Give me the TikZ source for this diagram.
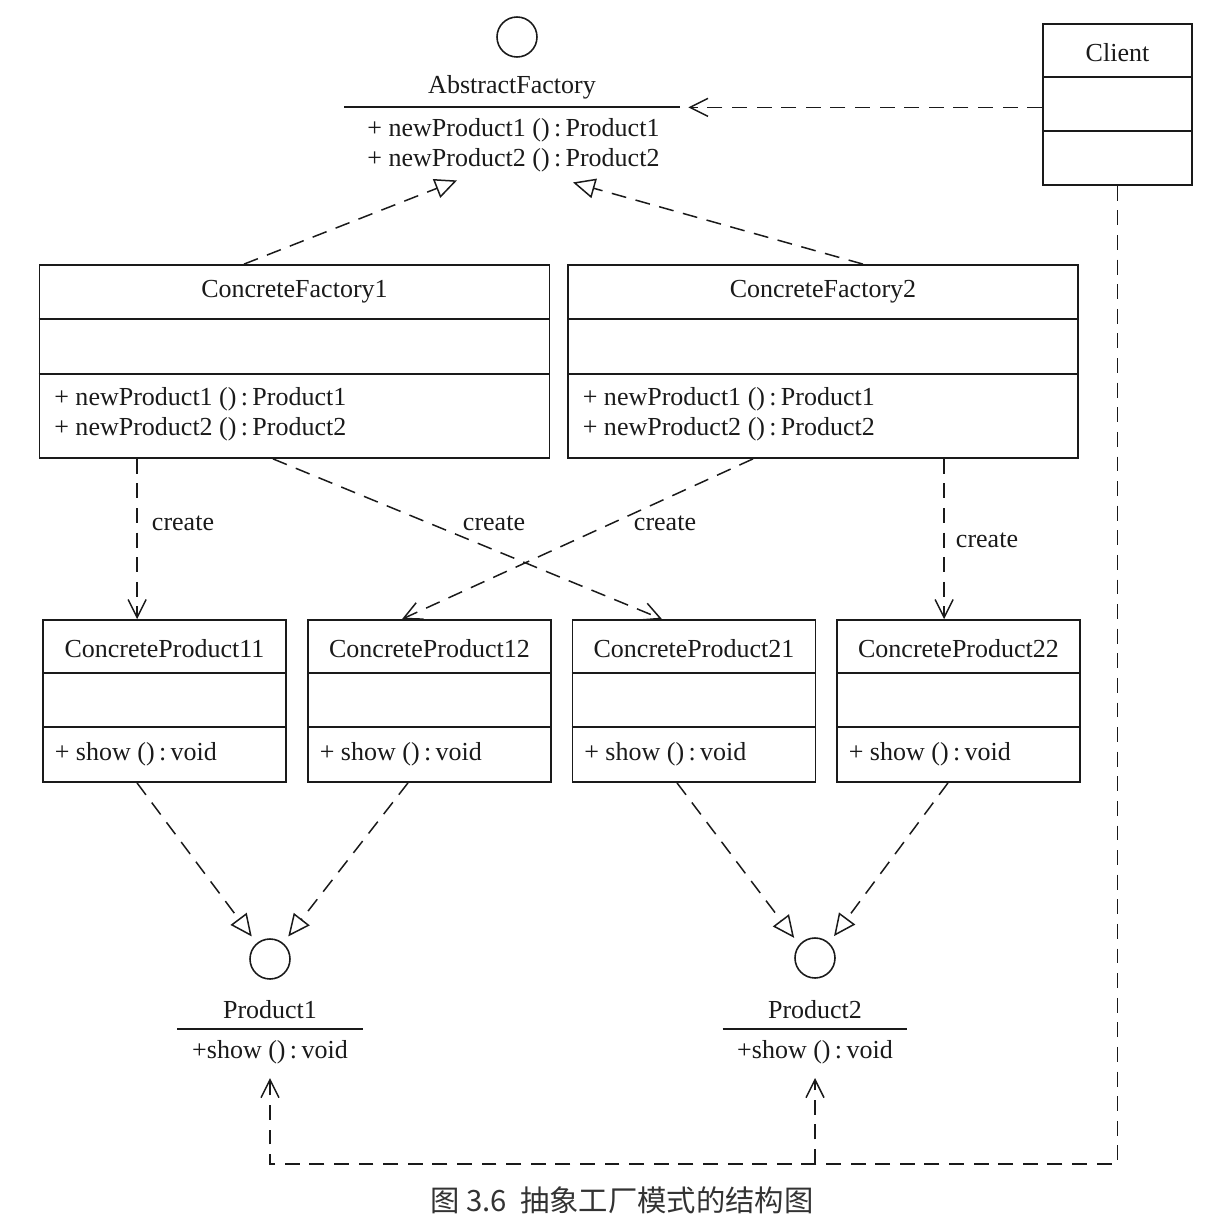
\documentclass[tikz,border=0pt]{standalone}
\usepackage{fontspec}
\setmainfont{Liberation Serif}
\newfontfamily\cjk{Noto Sans CJK SC}
\usepackage{tikz}
\usetikzlibrary{positioning, arrows.meta, calc}
\definecolor{ink}{HTML}{1A1A1A}
\newcommand{\umlfont}{\fontsize{14.8}{17}\selectfont}

\begin{document}
\begin{tikzpicture}[
  every node/.style={font=\umlfont, text=ink},
  cls/.style={draw=ink, line width=1pt, inner sep=0pt},
  iface/.style={circle, draw=ink, line width=0.9pt, minimum size=0.8cm,
                inner sep=0pt, outer sep=0.18cm},
  sep/.style={draw=ink, line width=1pt},
  dsh/.style={draw=ink, line width=0.85pt, dash pattern=on 8.5pt off 5.5pt},
  real/.style={dsh, -{Triangle[open, length=0.44cm, width=0.4cm]}},
  use/.style={dsh, -{Straight Barb[length=0.36cm, width=0.36cm]}}
]
\useasboundingbox (0,0) rectangle (24.64,-24.48);

% abstract factory
\node[iface] (afc) at (10.34,-0.74) {};
\node[minimum width=6.7cm, minimum height=0.8cm, inner sep=0pt] (af) at (10.24,-1.74) {AbstractFactory};
\draw[sep] (af.south west) -- (af.south east);
\node[align=center] (afm) at (10.27,-2.9) {+ newProduct1 ()\,:\,Product1\\+ newProduct2 ()\,:\,Product2};

% client
\node[cls, minimum width=2.98cm, minimum height=3.22cm] (cl) at (22.35,-2.09) {};
\node (clt) at ($(cl.north)+(0,-0.58)$) {Client};
\draw[sep] ($(cl.north west)+(0,-1.08)$) -- ($(cl.north east)+(0,-1.08)$)
           ($(cl.north west)+(0,-2.16)$) -- ($(cl.north east)+(0,-2.16)$);

% concrete factories
\foreach \n/\x in {1/5.89, 2/16.46}{
  \node[cls, minimum width=10.2cm, minimum height=3.86cm] (cf\n) at (\x,-7.23) {};
  \node (cf\n t) at ($(cf\n.north)+(0,-0.56)$) {ConcreteFactory\n};
  \draw[sep] ($(cf\n.north west)+(0,-1.1)$) -- ($(cf\n.north east)+(0,-1.1)$)
             ($(cf\n.north west)+(0,-2.2)$) -- ($(cf\n.north east)+(0,-2.2)$);
  \node[anchor=west, align=left] (cf\n m) at ($(cf\n.north west)+(0.19,-3.0)$)
    {+ newProduct1 ()\,:\,Product1\\+ newProduct2 ()\,:\,Product2};
}

% concrete products
\foreach \n/\x in {11/3.29, 12/8.59, 21/13.88, 22/19.17}{
  \node[cls, minimum width=4.86cm, minimum height=3.24cm] (cp\n) at (\x,-14.02) {};
  \node (cp\n t) at ($(cp\n.north)+(0,-0.58)$) {ConcreteProduct\n};
  \draw[sep] ($(cp\n.north west)+(0,-1.08)$) -- ($(cp\n.north east)+(0,-1.08)$)
             ($(cp\n.north west)+(0,-2.16)$) -- ($(cp\n.north east)+(0,-2.16)$);
  \node[anchor=west] (cp\n m) at ($(cp\n.north west)+(0.13,-2.7)$) {+ show ()\,:\,void};
}

% product interfaces
\node[iface] (p1c) at (5.4,-19.18) {};
\node[minimum width=3.7cm, minimum height=0.76cm, inner sep=0pt] (p1) at (5.4,-20.2) {Product1};
\draw[sep] (p1.south west) -- (p1.south east);
\node (p1s) at (5.4,-21.04) {+show ()\,:\,void};

\node[iface] (p2c) at (16.3,-19.16) {};
\node[minimum width=3.68cm, minimum height=0.76cm, inner sep=0pt] (p2) at (16.3,-20.2) {Product2};
\draw[sep] (p2.south west) -- (p2.south east);
\node (p2s) at (16.3,-21.04) {+show ()\,:\,void};

% realizations
\draw[real] ($(cf1.north)+(-1.01,0)$) -- ($(afm.south)+(-1.13,-0.05)$);
\draw[real] ($(cf2.north)+(0.8,0)$) -- ($(afm.south)+(1.19,-0.09)$);
\draw[real] ($(cp11.south)+(-0.55,0)$) -- (p1c.129);
\draw[real] ($(cp12.south)+(-0.43,0)$) -- (p1c.51);
\draw[real] ($(cp21.south)+(-0.34,0)$) -- (p2c.136);
\draw[real] ($(cp22.south)+(-0.21,0)$) -- (p2c.49);

% create
\coordinate (k1) at ($(cp11.north west)+(1.9,0)$);
\coordinate (k2) at ($(cp22.north west)+(2.16,0)$);
\draw[use] (k1 |- cf1.south) -- (k1);
\draw[use] ($(cf1.south)+(-0.43,0)$) -- ($(cp21.north)+(-0.64,0)$);
\draw[use] ($(cf2.south)+(-1.4,0)$) -- ($(cp12.north)+(-0.55,0)$);
\draw[use] (k2 |- cf2.south) -- (k2);
\node (cr1) at (3.66,-10.46) {create};
\node (cr2) at (9.88,-10.46) {create};
\node (cr3) at (13.3,-10.46) {create};
\node (cr4) at (19.74,-10.8) {create};

% client uses
\coordinate (bus) at (0,-23.28);
\draw[use, shorten >=0.17cm] (cl.west |- af.south) -- (af.south east);
\draw[use, shorten >=0.16cm] (cl.south) |- (bus -| p1s.south) -- (p1s.south);
\draw[use, shorten >=0.16cm] (bus -| p2s.south) -- (p2s.south);

\node[font=\cjk\fontsize{16.7}{20}\selectfont, text=black!80] (cap) at (12.44,-24.0)
  {图 3.6\hspace{0.45em}抽象工厂模式的结构图};
\end{tikzpicture}
\end{document}
